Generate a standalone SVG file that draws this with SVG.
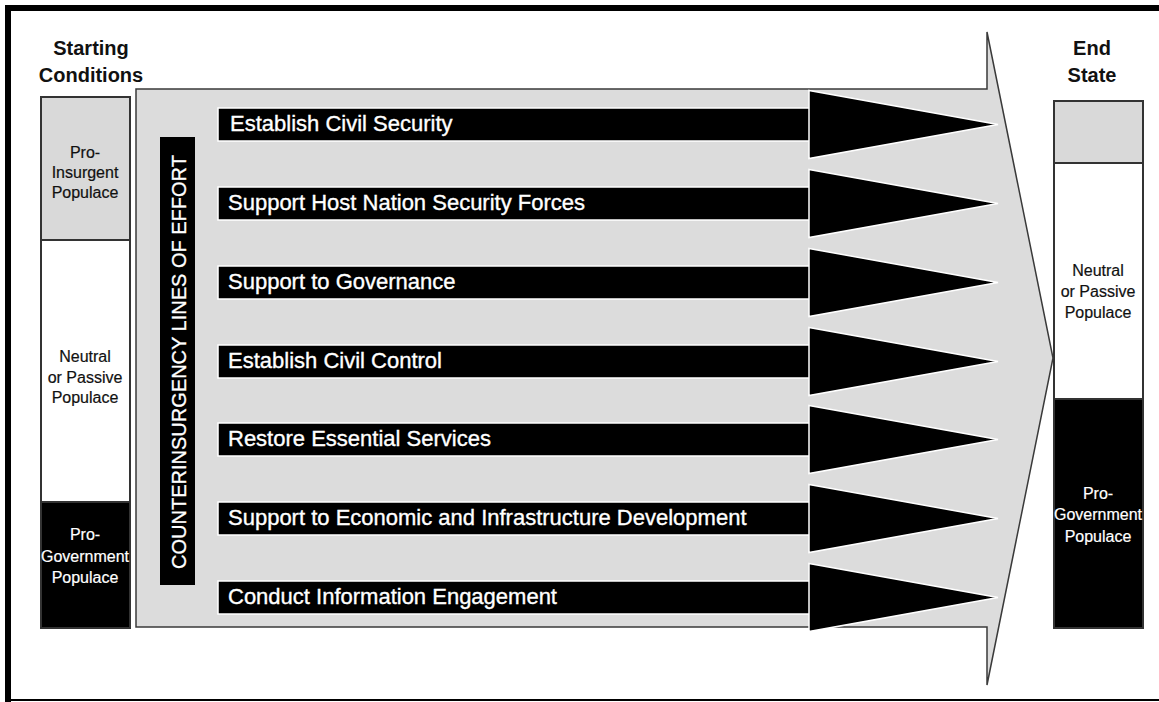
<svg xmlns="http://www.w3.org/2000/svg" width="1159" height="702" viewBox="0 0 1159 702">
<style>
text{font-family:"Liberation Sans",Arial,Helvetica,sans-serif}
.hdr{font-size:20px;font-weight:bold;fill:#111;text-anchor:middle}
.pop{font-size:16px;fill:#111;text-anchor:middle;stroke:#111;stroke-width:0.2}
.popw{font-size:16px;fill:#fff;text-anchor:middle;stroke:#fff;stroke-width:0.2}
.loe{font-size:22px;fill:#fff;stroke:#fff;stroke-width:0.35}
.shaft{fill:#000;stroke:#fff;stroke-width:1.5}
.head{fill:#000;stroke:#fff;stroke-width:1.5;stroke-linejoin:miter}
.col{stroke:#333;stroke-width:2}
</style>
<rect x="0" y="0" width="1159" height="702" fill="#fff"/>
<g id="frame">
<rect x="5" y="5" width="1154" height="6" fill="#000"/>
<rect x="5" y="5" width="6" height="697" fill="#000"/>
<rect x="5" y="699" width="1154" height="2" fill="#000"/>
</g>
<g id="starting-conditions">
<text class="hdr" x="91" y="55">Starting</text>
<text class="hdr" x="91" y="82">Conditions</text>
<rect class="col" x="41" y="97" width="89" height="143" fill="#d9d9d9"/>
<rect class="col" x="41" y="240" width="89" height="262" fill="#fff"/>
<rect class="col" x="41" y="502" width="89" height="126" fill="#000"/>
<text class="pop" x="85" y="158">Pro-</text>
<text class="pop" x="85" y="178">Insurgent</text>
<text class="pop" x="85" y="198">Populace</text>
<text class="pop" x="85" y="362">Neutral</text>
<text class="pop" x="85" y="383">or Passive</text>
<text class="pop" x="85" y="403">Populace</text>
<text class="popw" x="85" y="540">Pro-</text>
<text class="popw" x="85" y="562">Government</text>
<text class="popw" x="85" y="583">Populace</text>
</g>
<g id="end-state">
<text class="hdr" x="1092" y="55">End</text>
<text class="hdr" x="1092" y="82">State</text>
<rect class="col" x="1054" y="101" width="89" height="62" fill="#d9d9d9"/>
<rect class="col" x="1054" y="163" width="89" height="236" fill="#fff"/>
<rect class="col" x="1054" y="399" width="89" height="229" fill="#000"/>
<text class="pop" x="1098" y="276">Neutral</text>
<text class="pop" x="1098" y="297">or Passive</text>
<text class="pop" x="1098" y="318">Populace</text>
<text class="popw" x="1098" y="499">Pro-</text>
<text class="popw" x="1098" y="520">Government</text>
<text class="popw" x="1098" y="542">Populace</text>
</g>
<g id="connectors">
<path id="main-arrow" d="M136,89 H987 V32 L1053,358 L987,685 V627 H136 Z" fill="#dcdcdc" stroke="#3a3a3a" stroke-width="1.5" stroke-linejoin="miter"/>
</g>
<g id="loe-label">
<rect x="160" y="137" width="35" height="448" fill="#000"/>
<text x="186" y="362" transform="rotate(-90 186 362)" text-anchor="middle" font-size="20" fill="#fff" stroke="#fff" stroke-width="0.3">COUNTERINSURGENCY LINES OF EFFORT</text>
</g>
<g id="loe-1">
<rect class="shaft" x="218" y="108" width="600" height="33"/>
<polygon class="head" points="809,90.5 998,124.5 809,158.5"/>
<text class="loe" x="230" y="131">Establish Civil Security</text>
</g>
<g id="loe-2">
<rect class="shaft" x="218" y="187" width="600" height="33"/>
<polygon class="head" points="809,169.5 998,203.5 809,237.5"/>
<text class="loe" x="228" y="210">Support Host Nation Security Forces</text>
</g>
<g id="loe-3">
<rect class="shaft" x="218" y="266" width="600" height="33"/>
<polygon class="head" points="809,248.5 998,282.5 809,316.5"/>
<text class="loe" x="228" y="289">Support to Governance</text>
</g>
<g id="loe-4">
<rect class="shaft" x="218" y="345" width="600" height="33"/>
<polygon class="head" points="809,327.5 998,361.5 809,395.5"/>
<text class="loe" x="228" y="368">Establish Civil Control</text>
</g>
<g id="loe-5">
<rect class="shaft" x="218" y="423" width="600" height="33"/>
<polygon class="head" points="809,405.5 998,439.5 809,473.5"/>
<text class="loe" x="228" y="446">Restore Essential Services</text>
</g>
<g id="loe-6">
<rect class="shaft" x="218" y="502" width="600" height="33"/>
<polygon class="head" points="809,484.5 998,518.5 809,552.5"/>
<text class="loe" x="228" y="525">Support to Economic and Infrastructure Development</text>
</g>
<g id="loe-7">
<rect class="shaft" x="218" y="581" width="600" height="33"/>
<polygon class="head" points="809,563.5 998,597.5 809,631.5"/>
<text class="loe" x="228" y="604">Conduct Information Engagement</text>
</g>
</svg>
